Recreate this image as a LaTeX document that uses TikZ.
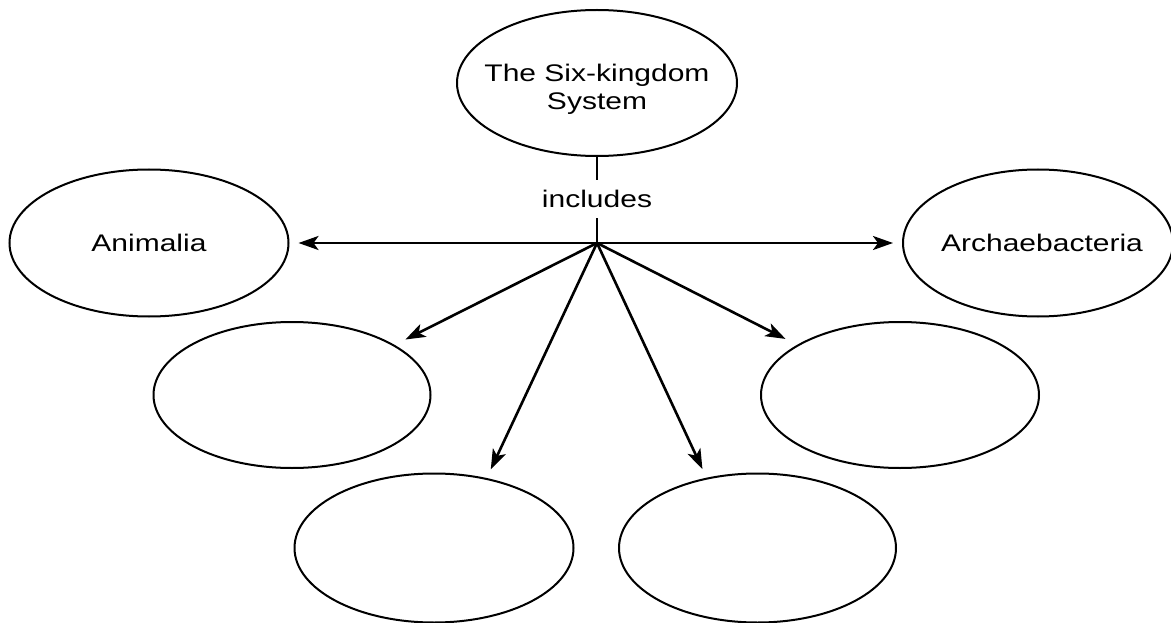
\documentclass[tikz,border=0pt]{standalone}
\usepackage{fontspec}
\setmainfont{Liberation Sans}
\usetikzlibrary{shapes.geometric,arrows.meta}
\tikzset{
  kingdom/.style={draw, ellipse, line width=2pt, inner sep=0pt},
  ktext/.style={font=\fontsize{24}{28}\selectfont, align=center, inner sep=0pt},
  conn/.style={line width=2.6pt, -{Stealth[length=20pt,width=14pt,inset=5pt]}},
  plain/.style={line width=2.6pt},
}
\newcommand{\wtxt}[1]{\scalebox{1.25}[1]{#1}}
\begin{document}
\begin{tikzpicture}[x=1pt,y=-1pt]
\useasboundingbox (0,0) rectangle (1171,623);
\node[kingdom, minimum width=280pt, minimum height=146pt,
  label={[ktext, yshift=-6pt]center:{\wtxt{The Six-kingdom}\\\wtxt{System}}}] (top) at (597,83) {};
\node[kingdom, minimum width=279pt, minimum height=147pt,
  label={[ktext]center:\wtxt{Animalia}}] (anim) at (149,243) {};
\node[kingdom, minimum width=270pt, minimum height=147pt,
  label={[ktext, xshift=4pt]center:\wtxt{Archaebacteria}}] (arch) at (1038,243) {};
\node[kingdom, minimum width=277pt, minimum height=146pt] (ml) at (292,395) {};
\node[kingdom, minimum width=278pt, minimum height=146pt] (mr) at (900,395) {};
\node[kingdom, minimum width=279pt, minimum height=149pt] (bl) at (434,548) {};
\node[kingdom, minimum width=277pt, minimum height=149pt] (br) at (757.5,548) {};
\node[ktext, minimum height=38pt] (inc) at (597,199) {\wtxt{includes}};
\coordinate (J) at (597,243);
\draw[plain] (top.south) -- (inc.north);
\draw[plain] (inc.south) -- (J);
\draw[conn, shorten >=9pt] (J) -- (anim.east);
\draw[conn, shorten >=9pt] (J) -- (arch.west);
\draw[conn, shorten >=12pt] (J) -- (ml.26);
\draw[conn, shorten >=13pt] (J) -- (mr.154);
\draw[conn, shorten >=9.5pt] (J) -- (bl.53.7);
\draw[conn, shorten >=9.5pt] (J) -- (br.126);
\end{tikzpicture}
\end{document}
